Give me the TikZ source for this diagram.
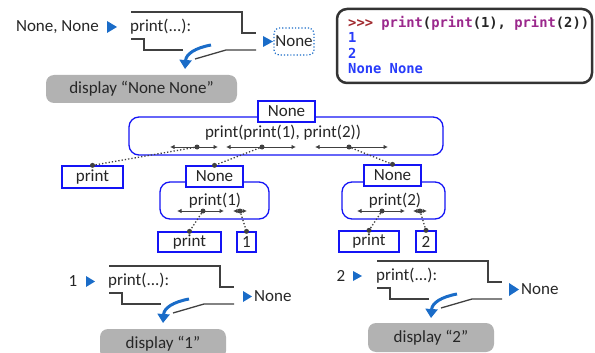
\documentclass[tikz,border=0pt]{standalone}
\usepackage{fontspec}
\setmainfont{Carlito}
\setmonofont{DejaVu Sans Mono}
\usetikzlibrary{arrows.meta}

\definecolor{callblue}{RGB}{20,20,245}
\definecolor{flowblue}{RGB}{26,108,200}
\definecolor{linegray}{RGB}{64,64,64}
\definecolor{promptred}{RGB}{160,40,45}
\definecolor{kwpurple}{RGB}{155,40,140}
\definecolor{outblue}{RGB}{40,60,250}

\begin{document}
\begin{tikzpicture}
    [
      x=1pt, y=-1pt,
      every node/.style={font=\fontsize{17}{20}\selectfont, text=black!85},
      value/.style={draw=callblue, line width=1.3pt, fill=white, inner sep=0pt},
      frame/.style={draw=callblue, line width=1.3pt, rounded corners=10pt, inner sep=0pt},
      shown/.style={fill=black!30, rounded corners=8pt, inner sep=0pt},
      span/.style={linegray, line width=1pt, {Latex[length=4.5pt,width=4.5pt]}-{Latex[length=4.5pt,width=4.5pt]}},
      dot/.style={circle, fill=linegray, inner sep=0pt, minimum size=5pt},
      link/.style={linegray, line width=1.3pt, dotted},
      body/.style={linegray, line width=1.3pt},
      flow/.style={flowblue, line width=3pt, -{Triangle[length=9pt,width=12pt]}},
      tip/.style={fill=flowblue},
      machine/.pic={
        \draw [body] (0,0) -- (111,0) -- (111,21) -- (125,21);
        \draw [body] (0,27) -- (13,27) -- (13,38) -- (52,38);
        \draw [body] (64,47) -- (95,38) -- (125,38);
        \draw [flow] (80,33) .. controls (64,36) and (55,42) .. (54,57);
      },
    ]

    \clip (0,0) rectangle (595,353);
    \useasboundingbox (0,0) rectangle (595,353);

    % top: print(None, None)
    \pic at (131,12) {machine};
    \node [anchor=west, inner sep=0pt] (fn0) at (130,27) {print(...):};
    \node [anchor=east, inner sep=0pt] (in0) at (99,27) {None, None};
    \fill [tip] (107,21) -- (117,27) -- (107,33) -- cycle;
    \fill [tip] (263,36) -- (273,41.5) -- (263,47) -- cycle;
    \node [draw=flowblue, dotted, line width=1.2pt, rounded corners=5pt,
           minimum width=40pt, minimum height=27pt, inner sep=0pt] (out0) at (294,41.5) {None};
    \node [shown, minimum width=191pt, minimum height=28pt] (disp0) at (141.5,89) {display “None None”};

    % interpreter session
    \node [draw=black!80, line width=2.5pt, rounded corners=10pt,
           minimum width=255pt, minimum height=74pt] (term) at (464.5,46) {};
    \node [anchor=north west, align=left, inner sep=0pt,
           font=\ttfamily\bfseries\fontsize{13.8}{15.3}\selectfont] (session) at (348,16)
      {\textcolor{promptred}{>>>} \textcolor{kwpurple}{print}(\textcolor{kwpurple}{print}(1), \textcolor{kwpurple}{print}(2))\\
       \textcolor{outblue}{1}\\
       \textcolor{outblue}{2}\\
       \textcolor{outblue}{None None}};

    % expression tree
    \node [frame, minimum width=314pt, minimum height=38pt] (call0) at (286,136) {};
    \node [value, minimum width=57pt, minimum height=21pt] (res0) at (286.5,111.5) {None};
    \node (expr0) at (283,133) {print(print(1), print(2))};
    \draw [span] (170,147) -- (218,147);
    \draw [span] (226,147) -- (296,147);
    \draw [span] (315,147) -- (388,147);
    \node [dot] (op0) at (197,147) {};
    \node [dot] (arg1) at (262,147) {};
    \node [dot] (arg2) at (349,147) {};

    \node [value, minimum width=61pt, minimum height=22pt] (fname0) at (92.5,177) {print};

    \node [frame, minimum width=109pt, minimum height=37pt] (call1) at (214.5,200.5) {};
    \node [value, minimum width=57pt, minimum height=21pt] (res1) at (214.5,176.5) {None};
    \node (expr1) at (215,201) {print(1)};
    \draw [span] (177,211) -- (224,211);
    \draw [span] (233,211) -- (247,211);
    \node [dot] (op1) at (203,211) {};
    \node [dot] (val1) at (240,211) {};
    \node [value, minimum width=63pt, minimum height=20pt] (fname1) at (189.5,242) {print};
    \node [value, minimum width=19pt, minimum height=20pt] (num1) at (246.5,242) {1};

    \node [frame, minimum width=103pt, minimum height=37pt] (call2) at (393.5,200.5) {};
    \node [value, minimum width=57pt, minimum height=21pt] (res2) at (392.5,175.5) {None};
    \node (expr2) at (395,201) {print(2)};
    \draw [span] (357,211) -- (405,211);
    \draw [span] (413,211) -- (427,211);
    \node [dot] (op2) at (382,211) {};
    \node [dot] (val2) at (420,211) {};
    \node [value, minimum width=60pt, minimum height=21pt] (fname2) at (369,241.5) {print};
    \node [value, minimum width=20pt, minimum height=21pt] (num2) at (426,241.5) {2};

    \node [dot] (top0) at (fname0.north) {};
    \node [dot] (top1) at (res1.north) {};
    \node [dot] (top2) at (res2.north) {};
    \node [dot] (top3) at (fname1.north) {};
    \node [dot] (top4) at (num1.north) {};
    \node [dot] (top5) at (fname2.north) {};
    \node [dot] (top6) at (num2.north) {};
    \draw [link] (op0) -- (top0);
    \draw [link] (arg1) -- (top1);
    \draw [link] (arg2) -- (top2);
    \draw [link] (op1) -- (top3);
    \draw [link] (val1) -- (top4);
    \draw [link] (op2) -- (top5);
    \draw [link] (val2) -- (top6);

    % bottom left: print(1)
    \pic at (109,266) {machine};
    \node [anchor=west, inner sep=0pt] (fn1) at (108,281) {print(...):};
    \node [inner sep=0pt] (in1) at (73,281) {1};
    \fill [tip] (86,276) -- (95,281.5) -- (86,287) -- cycle;
    \fill [tip] (243,291) -- (252,296.5) -- (243,302) -- cycle;
    \node [anchor=west, inner sep=0pt] (out1) at (254,296.5) {None};
    \node [shown, minimum width=126pt, minimum height=30pt] (disp1) at (163,344) {display “1”};

    % bottom right: print(2)
    \pic at (377,261) {machine};
    \node [anchor=west, inner sep=0pt] (fn2) at (376,276) {print(...):};
    \node [inner sep=0pt] (in2) at (341,276) {2};
    \fill [tip] (353,271) -- (362,276) -- (353,281) -- cycle;
    \fill [tip] (509,283) -- (519,289.5) -- (509,296) -- cycle;
    \node [anchor=west, inner sep=0pt] (out2) at (521,289.5) {None};
    \node [shown, minimum width=126pt, minimum height=29pt] (disp2) at (431,337.5) {display “2”};
  \end{tikzpicture}
\end{document}
